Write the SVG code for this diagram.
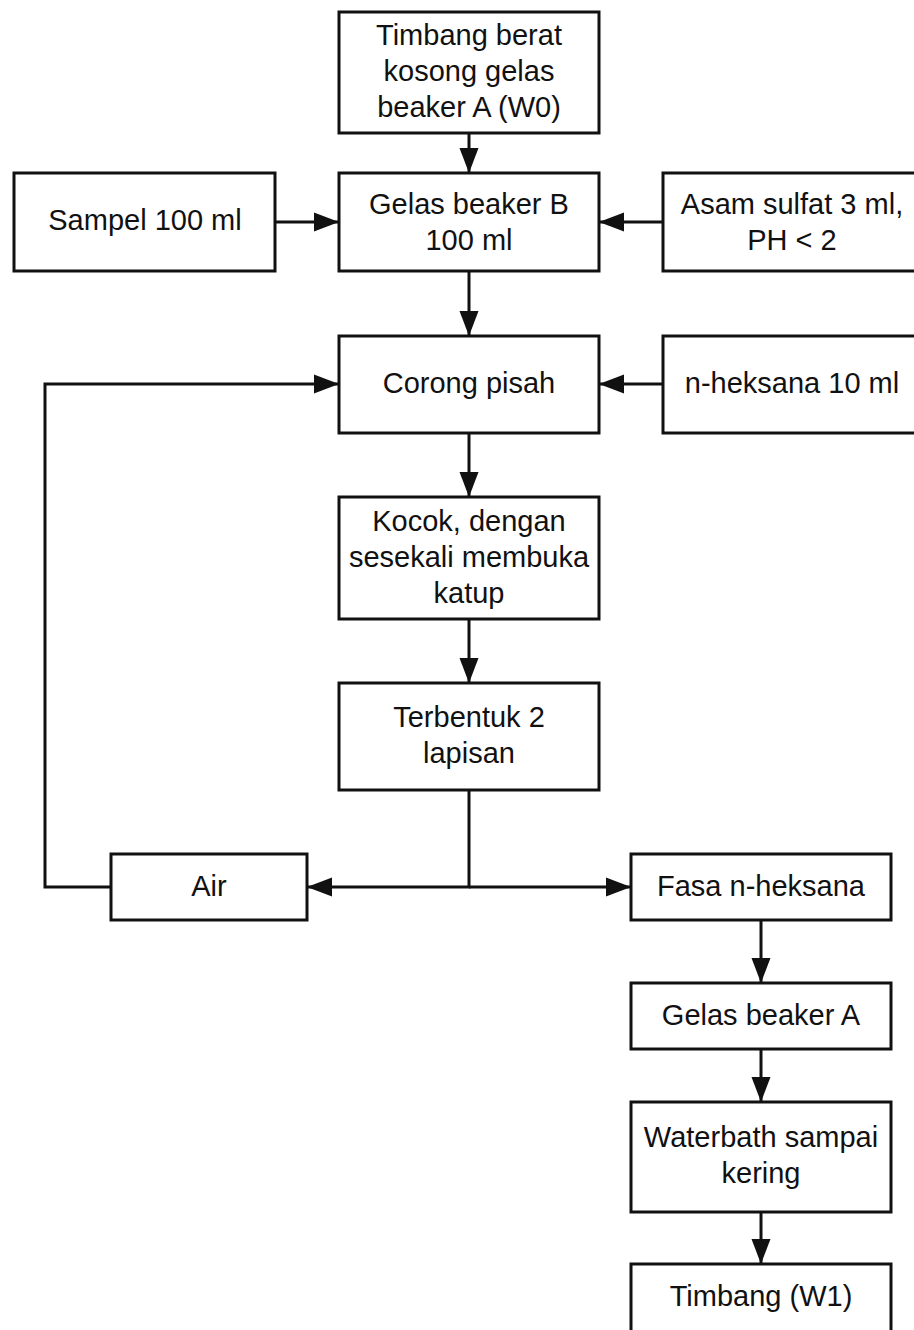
<svg xmlns="http://www.w3.org/2000/svg" width="914" height="1330" viewBox="0 0 914 1330">
<defs>
<style>
.box{fill:#fff;stroke:#111;stroke-width:3}
.t{font-family:"Liberation Sans",Arial,sans-serif;font-size:29px;fill:#111;text-anchor:middle}
.c{fill:none;stroke:#111;stroke-width:3}
</style>
<marker id="ah" markerUnits="userSpaceOnUse" markerWidth="28" markerHeight="20" viewBox="0 0 28 20" refX="26" refY="10" orient="auto">
<path d="M1,0.5 L26,10 L1,19.5 Z" fill="#111"/>
</marker>
</defs>
<rect width="914" height="1330" fill="#fff"/>
<g id="connectors">
<path class="c" d="M469,133 V173" marker-end="url(#ah)"/>
<path class="c" d="M275,222 H339" marker-end="url(#ah)"/>
<path class="c" d="M663,222 H599" marker-end="url(#ah)"/>
<path class="c" d="M469,271 V336" marker-end="url(#ah)"/>
<path class="c" d="M663,384 H599" marker-end="url(#ah)"/>
<path class="c" d="M469,433 V497" marker-end="url(#ah)"/>
<path class="c" d="M469,619 V683" marker-end="url(#ah)"/>
<path class="c" d="M469,790 V887 H307" marker-end="url(#ah)"/>
<path class="c" d="M469,887 H631" marker-end="url(#ah)"/>
<path class="c" d="M111,887 H45 V384 H339" marker-end="url(#ah)"/>
<path class="c" d="M761,920 V983" marker-end="url(#ah)"/>
<path class="c" d="M761,1049 V1102" marker-end="url(#ah)"/>
<path class="c" d="M761,1212 V1264" marker-end="url(#ah)"/>
</g>
<g id="n1"><rect class="box" x="339" y="12" width="260" height="121"/>
<text class="t" x="469" y="45">Timbang berat</text><text class="t" x="469" y="81">kosong gelas</text><text class="t" x="469" y="117">beaker A (W0)</text></g>
<g id="n2"><rect class="box" x="339" y="173" width="260" height="98"/>
<text class="t" x="469" y="214">Gelas beaker B</text><text class="t" x="469" y="250">100 ml</text></g>
<g id="n3"><rect class="box" x="14" y="173" width="261" height="98"/>
<text class="t" x="145" y="230">Sampel 100 ml</text></g>
<g id="n4"><rect class="box" x="663" y="173" width="262" height="98"/>
<text class="t" x="792" y="214">Asam sulfat 3 ml,</text><text class="t" x="792" y="250">PH &lt; 2</text></g>
<g id="n5"><rect class="box" x="339" y="336" width="260" height="97"/>
<text class="t" x="469" y="393">Corong pisah</text></g>
<g id="n6"><rect class="box" x="663" y="336" width="262" height="97"/>
<text class="t" x="792" y="393">n-heksana 10 ml</text></g>
<g id="n7"><rect class="box" x="339" y="497" width="260" height="122"/>
<text class="t" x="469" y="531">Kocok, dengan</text><text class="t" x="469" y="567">sesekali membuka</text><text class="t" x="469" y="603">katup</text></g>
<g id="n8"><rect class="box" x="339" y="683" width="260" height="107"/>
<text class="t" x="469" y="727">Terbentuk 2</text><text class="t" x="469" y="763">lapisan</text></g>
<g id="n9"><rect class="box" x="111" y="854" width="196" height="66"/>
<text class="t" x="209" y="896">Air</text></g>
<g id="n10"><rect class="box" x="631" y="854" width="260" height="66"/>
<text class="t" x="761" y="896">Fasa n-heksana</text></g>
<g id="n11"><rect class="box" x="631" y="983" width="260" height="66"/>
<text class="t" x="761" y="1025">Gelas beaker A</text></g>
<g id="n12"><rect class="box" x="631" y="1102" width="260" height="110"/>
<text class="t" x="761" y="1147">Waterbath sampai</text><text class="t" x="761" y="1183">kering</text></g>
<g id="n13"><rect class="box" x="631" y="1264" width="260" height="100"/>
<text class="t" x="761" y="1306">Timbang (W1)</text></g>
</svg>
